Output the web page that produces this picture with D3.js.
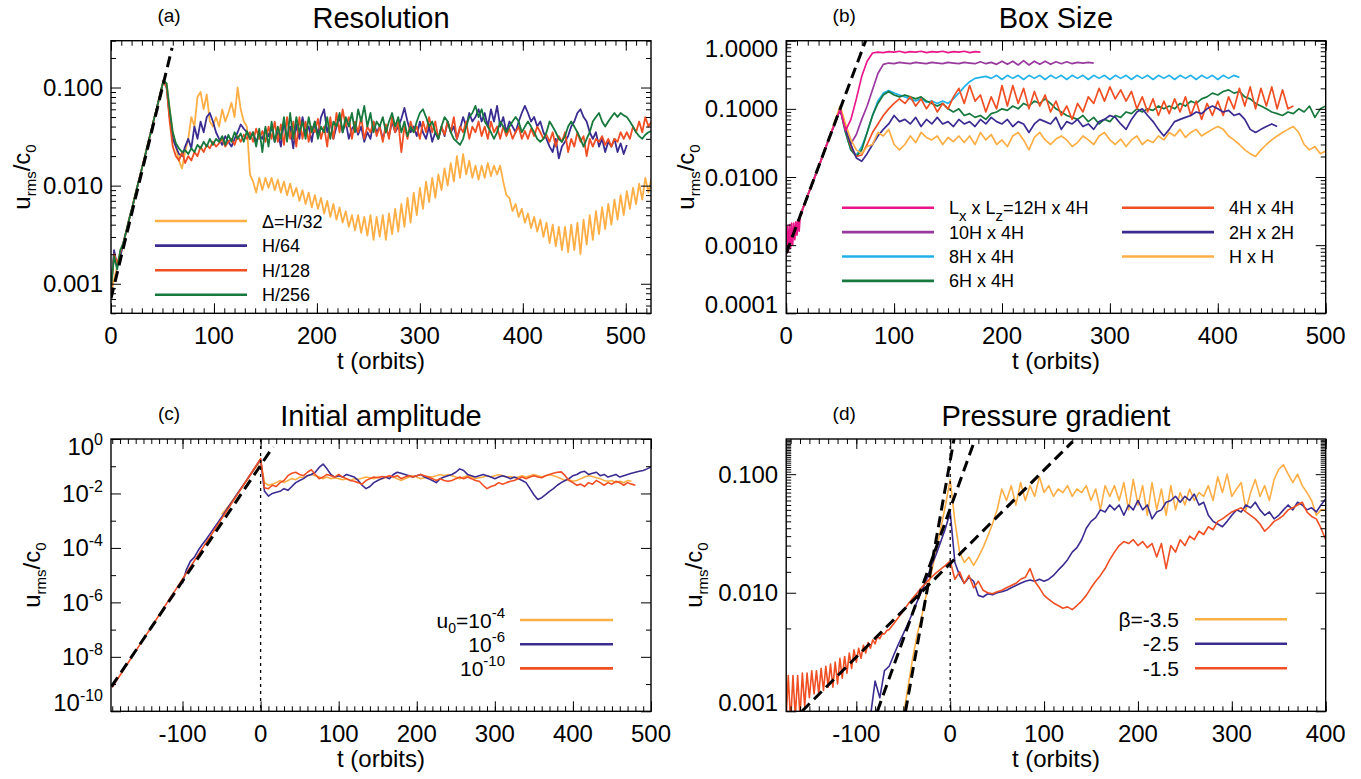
<!DOCTYPE html>
<html><head><meta charset="utf-8">
<script src="https://cdn.jsdelivr.net/npm/d3@7"></script>
<style>
body{margin:0;background:#fff;}
svg{display:block;}
text{font-family:"Liberation Sans",Arial,Helvetica,sans-serif;fill:#000;white-space:pre;}
</style>
</head><body>
<script>
// ================= DATA =================
// Panel (a) Resolution: sampled every 3 orbits from t=0
const aT0 = 0, aStep = 3;
const aH32 = [
0.0008,0.0011,0.0015,0.0019,0.0026,0.0035,0.0047,0.0062,0.0084,0.0112,
0.015,0.02,0.027,0.036,0.049,0.065,0.088,0.118,0.11,0.06,
0.035,0.025,0.018,0.015,0.022,0.03,0.05,0.04,0.08,0.09,
0.06,0.085,0.045,0.04,0.05,0.04,0.06,0.045,0.055,0.07,
0.05,0.1,0.06,0.045,0.04,0.013,0.011,0.0085,0.012,0.009,
0.012,0.0095,0.012,0.009,0.0115,0.0085,0.011,0.008,0.0105,0.0078,
0.0095,0.007,0.009,0.0065,0.0085,0.006,0.008,0.0058,0.0075,0.0052,
0.007,0.0048,0.0065,0.0045,0.006,0.0042,0.0055,0.0038,0.005,0.0035,
0.005,0.0033,0.0048,0.0031,0.005,0.0028,0.0048,0.003,0.005,0.0028,
0.0052,0.0032,0.0058,0.0034,0.0065,0.0038,0.0075,0.0042,0.0085,0.005,
0.0095,0.0058,0.011,0.0068,0.012,0.0075,0.013,0.009,0.015,0.01,
0.017,0.011,0.02,0.012,0.021,0.013,0.018,0.012,0.016,0.0115,
0.016,0.012,0.017,0.0125,0.016,0.013,0.016,0.011,0.008,0.0075,
0.0055,0.0065,0.0048,0.0058,0.0042,0.0052,0.0037,0.0048,0.0034,0.0045,
0.003,0.0042,0.0026,0.004,0.0024,0.0038,0.0022,0.0038,0.0021,0.004,
0.0022,0.0042,0.002,0.0045,0.0025,0.005,0.0028,0.0055,0.0032,0.006,
0.0036,0.0065,0.004,0.0072,0.0045,0.008,0.005,0.0088,0.0058,0.0095,
0.0065,0.0105,0.0072,0.012,0.0085,0.012];
const aH64 = [
0.0009,0.0022,0.0015,0.0019,0.0026,0.0035,0.0047,0.0062,0.0084,0.0112,
0.015,0.02,0.027,0.036,0.049,0.065,0.088,0.118,0.1,0.05,
0.03,0.025,0.021,0.02,0.025,0.03,0.024,0.04,0.03,0.045,
0.035,0.05,0.055,0.045,0.035,0.03,0.026,0.032,0.028,0.025,
0.03,0.035,0.042,0.038,0.035,0.03,0.035,0.028,0.033,0.03,
0.038,0.032,0.04,0.028,0.035,0.025,0.045,0.03,0.04,0.024,
0.042,0.03,0.05,0.035,0.04,0.028,0.045,0.033,0.05,0.06,
0.035,0.045,0.03,0.04,0.05,0.035,0.045,0.03,0.038,0.042,
0.033,0.04,0.028,0.035,0.03,0.045,0.035,0.04,0.03,0.038,
0.032,0.045,0.035,0.04,0.048,0.062,0.045,0.035,0.04,0.032,
0.045,0.035,0.03,0.04,0.028,0.035,0.03,0.04,0.032,0.045,
0.035,0.04,0.03,0.038,0.05,0.04,0.055,0.045,0.05,0.06,
0.045,0.055,0.04,0.06,0.045,0.065,0.04,0.05,0.035,0.045,
0.04,0.035,0.045,0.055,0.065,0.055,0.045,0.05,0.04,0.045,
0.035,0.03,0.025,0.022,0.03,0.019,0.025,0.028,0.032,0.04,
0.045,0.055,0.06,0.05,0.045,0.035,0.03,0.035,0.025,0.03,
0.022,0.028,0.025,0.03,0.022,0.027,0.021,0.026];
const aH128 = [
0.0008,0.002,0.0016,0.0021,0.0026,0.0035,0.0047,0.0062,0.0084,0.0112,
0.015,0.02,0.027,0.036,0.049,0.065,0.088,0.118,0.1,0.045,
0.025,0.02,0.018,0.022,0.017,0.02,0.018,0.022,0.02,0.025,
0.022,0.026,0.024,0.028,0.025,0.027,0.03,0.025,0.028,0.03,
0.026,0.032,0.028,0.033,0.03,0.035,0.028,0.038,0.03,0.036,
0.028,0.04,0.03,0.045,0.028,0.042,0.026,0.05,0.03,0.045,
0.025,0.05,0.03,0.045,0.028,0.04,0.035,0.048,0.03,0.04,
0.025,0.05,0.03,0.055,0.035,0.06,0.04,0.05,0.03,0.045,
0.035,0.05,0.03,0.04,0.035,0.045,0.032,0.04,0.028,0.042,
0.03,0.05,0.035,0.045,0.022,0.04,0.03,0.045,0.035,0.04,
0.03,0.045,0.035,0.05,0.035,0.045,0.03,0.04,0.033,0.045,
0.035,0.05,0.03,0.04,0.035,0.045,0.03,0.04,0.035,0.045,
0.032,0.04,0.03,0.045,0.035,0.04,0.03,0.04,0.032,0.038,
0.03,0.035,0.04,0.03,0.036,0.03,0.038,0.032,0.04,0.035,
0.03,0.033,0.028,0.035,0.025,0.032,0.028,0.035,0.022,0.03,
0.025,0.035,0.028,0.032,0.02,0.03,0.025,0.03,0.028,0.032,
0.026,0.03,0.025,0.03,0.028,0.035,0.03,0.035,0.03,0.04,
0.035,0.045,0.035,0.05,0.04,0.045];
const aH256 = [
0.0009,0.0019,0.0014,0.0022,0.0026,0.0035,0.0047,0.0062,0.0084,0.0112,
0.015,0.02,0.027,0.036,0.049,0.065,0.088,0.118,0.11,0.06,
0.035,0.027,0.024,0.022,0.023,0.021,0.024,0.022,0.026,0.024,
0.028,0.025,0.03,0.026,0.03,0.028,0.032,0.026,0.033,0.028,
0.035,0.03,0.034,0.028,0.036,0.03,0.035,0.025,0.038,0.022,
0.04,0.025,0.045,0.028,0.04,0.03,0.05,0.028,0.055,0.03,
0.05,0.035,0.045,0.03,0.05,0.035,0.045,0.03,0.04,0.035,
0.05,0.03,0.045,0.04,0.055,0.035,0.05,0.04,0.055,0.035,
0.06,0.045,0.065,0.04,0.055,0.035,0.045,0.04,0.05,0.035,
0.045,0.055,0.04,0.05,0.035,0.045,0.032,0.04,0.035,0.045,
0.055,0.06,0.05,0.04,0.045,0.035,0.03,0.04,0.05,0.045,
0.035,0.03,0.028,0.026,0.03,0.04,0.05,0.055,0.065,0.05,
0.06,0.045,0.04,0.035,0.03,0.035,0.045,0.04,0.035,0.04,
0.045,0.05,0.045,0.035,0.04,0.045,0.04,0.035,0.03,0.028,
0.03,0.035,0.045,0.04,0.035,0.03,0.028,0.032,0.04,0.045,
0.04,0.035,0.03,0.025,0.03,0.035,0.045,0.05,0.055,0.045,
0.04,0.045,0.05,0.055,0.05,0.055,0.052,0.05,0.045,0.04,
0.035,0.032,0.03,0.033,0.035,0.036];
const aDash = [[0,0.00071],[59.3,0.253]];
const aLegend = ["\u0394=H/32","H/64","H/128","H/256"];
const aXTicks = [0,100,200,300,400,500];
const aYTicks = [0.001,0.01,0.1];
const aYLabels = ["0.001","0.010","0.100"];

// Panel (b) Box size: sampled every 5 orbits from t=0
const bT0 = 0, bStep = 5;
// early noisy start of the 12H x 4H run, every orbit from t=0
const bPinkEarlyT0 = 0, bPinkEarlyStep = 1;
const bPinkEarly = [0.0007,0.0019,0.0008,0.002,0.0009,0.0021,0.001,0.0021,0.0012,0.0022,0.0014,0.0023,0.0016,0.0027,0.0028,0.0033];
const bPink = [
0.0033,0.0054,0.0087,0.014,0.023,0.038,0.061,
0.1,0.048,0.07,0.14,0.3,0.5,0.66,0.68,0.67,0.69,
0.68,0.7,0.67,0.69,0.68,0.7,0.67,0.69,0.68,0.7,
0.67,0.69,0.68,0.7,0.67,0.69,0.68];
const bPinkT0 = 15;
const bPurple = [
0.0008,0.0012,0.002,0.0033,0.0054,0.0087,0.014,0.023,0.038,0.061,
0.1,0.05,0.031,0.042,0.07,0.11,0.19,0.33,0.45,0.47,
0.46,0.48,0.47,0.46,0.48,0.47,0.46,0.48,0.47,0.46,
0.48,0.47,0.46,0.48,0.47,0.46,0.49,0.46,0.48,0.45,
0.5,0.45,0.5,0.44,0.51,0.44,0.5,0.45,0.5,0.45,
0.49,0.46,0.49,0.46,0.48,0.47,0.48,0.47];
const bSky = [
0.0008,0.0012,0.002,0.0033,0.0054,0.0087,0.014,0.023,0.038,0.061,
0.1,0.045,0.025,0.021,0.028,0.045,0.08,0.13,0.17,0.185,
0.17,0.16,0.15,0.14,0.13,0.14,0.125,0.13,0.12,0.13,
0.12,0.14,0.17,0.21,0.25,0.28,0.29,0.3,0.28,0.31,
0.27,0.31,0.28,0.31,0.27,0.31,0.28,0.31,0.27,0.31,
0.28,0.31,0.27,0.31,0.28,0.31,0.27,0.31,0.28,0.31,
0.27,0.31,0.28,0.31,0.27,0.31,0.28,0.31,0.27,0.31,
0.28,0.31,0.27,0.31,0.28,0.31,0.27,0.31,0.28,0.31,
0.27,0.31,0.28,0.31,0.29];
const bGreen = [
0.0008,0.0012,0.002,0.0033,0.0054,0.0087,0.014,0.023,0.038,0.061,
0.1,0.045,0.025,0.02,0.025,0.045,0.08,0.12,0.16,0.18,
0.16,0.15,0.16,0.15,0.14,0.15,0.13,0.12,0.11,0.12,
0.1,0.09,0.1,0.08,0.085,0.075,0.08,0.07,0.085,0.09,
0.1,0.095,0.11,0.1,0.12,0.11,0.13,0.12,0.14,0.12,
0.1,0.09,0.08,0.075,0.07,0.08,0.065,0.075,0.06,0.07,
0.065,0.08,0.075,0.09,0.085,0.1,0.09,0.1,0.095,0.11,
0.1,0.11,0.1,0.12,0.11,0.13,0.12,0.14,0.15,0.17,
0.16,0.18,0.19,0.17,0.18,0.15,0.14,0.12,0.11,0.1,
0.09,0.085,0.08,0.09,0.085,0.1,0.09,0.11,0.075,0.1,
0.11];
const bRed = [
0.0008,0.0012,0.002,0.0033,0.0054,0.0087,0.014,0.023,0.038,0.061,
0.1,0.05,0.028,0.02,0.021,0.03,0.045,0.06,0.08,0.1,
0.12,0.14,0.12,0.15,0.11,0.14,0.1,0.13,0.09,0.12,
0.1,0.15,0.2,0.12,0.22,0.13,0.16,0.09,0.15,0.1,
0.22,0.11,0.22,0.12,0.2,0.1,0.18,0.11,0.16,0.09,
0.13,0.08,0.11,0.07,0.12,0.09,0.15,0.12,0.2,0.13,
0.21,0.14,0.19,0.13,0.18,0.1,0.15,0.09,0.14,0.08,
0.13,0.085,0.14,0.09,0.15,0.08,0.13,0.07,0.12,0.08,
0.13,0.08,0.15,0.1,0.2,0.11,0.21,0.1,0.2,0.11,
0.21,0.1,0.19,0.1,0.11];
const bIndigo = [
0.0008,0.0012,0.002,0.0033,0.0054,0.0087,0.014,0.023,0.038,0.061,
0.1,0.05,0.03,0.019,0.017,0.022,0.03,0.04,0.05,0.06,
0.08,0.065,0.07,0.06,0.075,0.055,0.07,0.06,0.075,0.06,
0.065,0.055,0.07,0.06,0.065,0.055,0.07,0.06,0.075,0.065,
0.06,0.07,0.055,0.065,0.06,0.045,0.06,0.07,0.065,0.06,
0.075,0.05,0.065,0.06,0.07,0.055,0.06,0.05,0.065,0.07,
0.08,0.075,0.06,0.05,0.07,0.09,0.1,0.08,0.065,0.05,
0.04,0.05,0.065,0.07,0.075,0.08,0.09,0.085,0.1,0.11,
0.1,0.09,0.095,0.08,0.085,0.07,0.05,0.045,0.05,0.055,
0.06,0.055];
const bOrange = [
0.0008,0.0012,0.002,0.0033,0.0054,0.0087,0.014,0.023,0.038,0.065,
0.11,0.06,0.035,0.025,0.022,0.028,0.03,0.045,0.04,0.05,
0.03,0.025,0.03,0.04,0.032,0.045,0.038,0.035,0.04,0.03,
0.038,0.033,0.04,0.032,0.04,0.03,0.045,0.035,0.042,0.03,
0.035,0.028,0.04,0.045,0.035,0.025,0.038,0.045,0.035,0.03,
0.036,0.04,0.035,0.028,0.032,0.04,0.035,0.03,0.04,0.045,
0.035,0.03,0.036,0.028,0.035,0.04,0.03,0.035,0.032,0.04,
0.035,0.045,0.04,0.05,0.038,0.045,0.05,0.04,0.045,0.05,
0.055,0.05,0.04,0.035,0.03,0.025,0.022,0.02,0.025,0.03,
0.035,0.04,0.045,0.05,0.055,0.045,0.03,0.025,0.028,0.022,
0.024];
const bDash = [[0,0.00076],[73.6,1.0]];
const bLegendLeft = ["Lx x Lz=12H x 4H","10H x 4H","8H x 4H","6H x 4H"];
const bLegendRight = ["4H x 4H","2H x 2H","H x H"];
const bXTicks = [0,100,200,300,400,500];
const bYTicks = [1e-4,1e-3,1e-2,1e-1,1];
const bYLabels = ["0.0001","0.0010","0.0100","0.1000","1.0000"];

// Panel (c) Initial amplitude: sampled every 5 orbits
const cStep = 5;
const cRedT0 = -190;
const cRed = [
7.6e-10,1.3e-9,2.1e-9,3.5e-9,5.8e-9,9.7e-9,1.6e-8,2.7e-8,4.5e-8,7.4e-8,
1.2e-7,2.05e-7,3.4e-7,5.7e-7,9.4e-7,1.57e-6,2.6e-6,4.3e-6,7.2e-6,1.2e-5,
2e-5,3.3e-5,5.5e-5,9.2e-5,1.53e-4,2.5e-4,4.2e-4,7e-4,1.17e-3,1.95e-3,
3.2e-3,5.4e-3,8.9e-3,0.0149,0.0248,0.041,0.069,0.114,0.19,0.016,
0.015,0.02,0.018,0.025,0.03,0.045,0.055,0.06,0.05,0.045,
0.06,0.075,0.05,0.035,0.04,0.05,0.045,0.04,0.05,0.04,
0.035,0.03,0.028,0.025,0.022,0.03,0.035,0.04,0.038,0.042,
0.04,0.045,0.04,0.045,0.035,0.04,0.045,0.04,0.045,0.05,
0.045,0.04,0.035,0.03,0.035,0.03,0.028,0.03,0.035,0.04,
0.035,0.04,0.035,0.03,0.028,0.02,0.015,0.018,0.02,0.025,
0.022,0.025,0.028,0.03,0.035,0.04,0.035,0.04,0.045,0.04,
0.038,0.045,0.05,0.055,0.06,0.062,0.045,0.03,0.025,0.02,
0.022,0.018,0.025,0.022,0.03,0.025,0.02,0.025,0.022,0.028,
0.025,0.02,0.025,0.022,0.02];
const cBlueT0 = -100;
const cBlue = [
5e-6,1.6e-5,3.2e-5,4.5e-5,8e-5,1.3e-4,2e-4,3.2e-4,5.2e-4,8.3e-4,
1.35e-3,2.2e-3,3.6e-3,5.8e-3,9.5e-3,0.0155,0.025,0.041,0.067,0.11,
0.18,0.012,0.008,0.01,0.011,0.012,0.015,0.013,0.018,0.025,
0.03,0.035,0.045,0.05,0.06,0.09,0.12,0.08,0.05,0.04,
0.045,0.04,0.05,0.045,0.04,0.03,0.02,0.015,0.018,0.025,
0.03,0.035,0.04,0.035,0.05,0.06,0.055,0.05,0.045,0.04,
0.045,0.05,0.04,0.035,0.03,0.025,0.035,0.04,0.045,0.05,
0.06,0.08,0.07,0.05,0.045,0.04,0.045,0.05,0.045,0.04,
0.035,0.04,0.045,0.04,0.035,0.04,0.035,0.03,0.025,0.015,
0.009,0.006,0.007,0.009,0.012,0.015,0.02,0.025,0.03,0.035,
0.045,0.05,0.06,0.065,0.05,0.055,0.06,0.045,0.05,0.04,
0.045,0.05,0.04,0.045,0.05,0.055,0.06,0.065,0.07,0.08,
0.095];
const cOrangeT0 = -50;
const cOrange = [
0.0017,0.0025,0.0038,0.006,0.0095,0.015,0.024,0.039,0.062,0.1,
0.16,0.025,0.02,0.022,0.025,0.03,0.025,0.03,0.035,0.032,
0.04,0.038,0.045,0.05,0.045,0.04,0.035,0.04,0.035,0.038,
0.035,0.032,0.035,0.03,0.035,0.033,0.036,0.04,0.038,0.035,
0.04,0.035,0.038,0.042,0.04,0.035,0.03,0.035,0.04,0.045,
0.04,0.035,0.038,0.042,0.04,0.045,0.05,0.045,0.05,0.045,
0.04,0.035,0.04,0.045,0.04,0.035,0.038,0.04,0.045,0.04,
0.045,0.05,0.045,0.04,0.042,0.038,0.04,0.045,0.04,0.045,
0.05,0.045,0.04,0.045,0.05,0.045,0.04,0.035,0.03,0.032,
0.028,0.03,0.035,0.04,0.045,0.042,0.038,0.035,0.03,0.028,
0.03,0.025,0.028,0.025,0.03,0.028];
const cDash = [[-191,8.1e-10],[16,0.52]];
const cXTicks = [-100,0,100,200,300,400,500];
const cYTicks = [1e-10,1e-8,1e-6,1e-4,1e-2,1];
const cYExp = ["-10","-8","-6","-4","-2","0"];
const cLegendExp = ["-4","-6","-10"];

// Panel (d) Pressure gradient
const dRedEarlyT0 = -175, dRedEarlyStep = 2.5;
const dRedEarly = [
0.0008,0.002,0.0008,0.002,0.0009,0.002,0.0009,0.0021,0.0011,0.0021,
0.0013,0.0022,0.0014,0.0022,0.0014,0.0023,0.0015,0.0024,0.0016,0.0025,
0.0016,0.0026,0.0017,0.0028,0.0019,0.0029,0.0021,0.0031,0.0023,0.0033,
0.0026,0.0034,0.0028,0.0036,0.0031,0.0038,0.0034,0.004,0.0037,0.0043,
0.0041,0.0045,0.0045,0.0048,0.0049,0.0052];
const dRedT0 = -60, dStep = 5;
const dRed = [
0.0055,0.0062,0.007,0.008,0.009,0.01,0.0112,0.0123,0.0135,0.0147,
0.0158,0.017,0.0185,0.013,0.015,0.012,0.014,0.011,0.0125,0.0105,
0.01,0.0098,0.0102,0.0105,0.011,0.0115,0.012,0.013,0.0135,0.016,
0.0125,0.011,0.0095,0.0088,0.0082,0.0078,0.0074,0.0076,0.0072,0.0078,
0.0085,0.0095,0.011,0.0125,0.014,0.016,0.019,0.022,0.025,0.027,
0.026,0.028,0.025,0.027,0.024,0.026,0.02,0.026,0.016,0.025,
0.022,0.028,0.025,0.03,0.028,0.033,0.031,0.036,0.034,0.04,
0.042,0.045,0.048,0.05,0.052,0.048,0.045,0.042,0.038,0.033,
0.036,0.04,0.042,0.045,0.05,0.052,0.055,0.058,0.048,0.044,
0.042,0.035,0.028];
const dBlueT0 = -85;
const dBlue = [
0.0009,0.0018,0.0013,0.0022,0.0024,0.003,0.0037,0.0045,0.0055,0.0068,
0.0085,0.0105,0.013,0.017,0.021,0.027,0.035,0.048,0.018,0.014,
0.012,0.0135,0.0125,0.0095,0.0092,0.0098,0.0096,0.01,0.0102,0.0105,
0.011,0.0115,0.012,0.0125,0.0128,0.0125,0.013,0.0125,0.013,0.014,
0.0155,0.017,0.019,0.022,0.024,0.028,0.035,0.04,0.043,0.05,
0.048,0.055,0.05,0.055,0.045,0.055,0.05,0.06,0.05,0.055,
0.042,0.048,0.05,0.058,0.06,0.065,0.058,0.065,0.06,0.068,
0.055,0.058,0.045,0.04,0.038,0.036,0.04,0.045,0.05,0.048,
0.055,0.052,0.058,0.05,0.045,0.048,0.042,0.045,0.05,0.055,
0.05,0.058,0.055,0.05,0.052,0.048,0.055,0.062];
const dOrangeT0 = -50;
const dOrange = [
0.0009,0.0016,0.0028,0.0045,0.0065,0.01,0.015,0.022,0.035,0.055,
0.09,0.04,0.022,0.018,0.02,0.017,0.02,0.024,0.03,0.038,
0.05,0.075,0.06,0.08,0.055,0.085,0.06,0.08,0.065,0.095,
0.07,0.08,0.065,0.075,0.07,0.08,0.065,0.075,0.07,0.08,
0.06,0.075,0.05,0.08,0.065,0.08,0.06,0.085,0.05,0.09,
0.055,0.08,0.045,0.085,0.05,0.075,0.045,0.08,0.05,0.07,
0.055,0.075,0.06,0.07,0.065,0.08,0.06,0.095,0.07,0.1,
0.065,0.075,0.085,0.05,0.07,0.09,0.065,0.08,0.06,0.09,
0.11,0.12,0.1,0.085,0.1,0.08,0.07,0.06,0.045,0.05,
0.05];
const dDashShallow = [[-158,0.001],[130.3,0.188]];
const dDashMid = [[-77.6,0.001],[26.3,0.195]];
const dDashSteep = [[-47.6,0.001],[4.2,0.2]];
const dLegend = ["\u03b2=-3.5","-2.5","-1.5"];
const dXTicks = [-100,0,100,200,300,400];
const dYTicks = [0.001,0.01,0.1];
const dYLabels = ["0.001","0.010","0.100"];

// ================= STYLE / LAYOUT =================
const COL = {orange:"#FDAE45", indigo:"#3A2C91", red:"#F04E23", green:"#17793D",
             pink:"#EA1588", purple:"#98399D", sky:"#22B2EA"};
const LAY = {
  a:{x0:111,x1:651,y0:40.7,y1:313.3,xd:[0,524.5],yd:[0.0005,0.3]},
  b:{x0:786.2,x1:1325.7,y0:40.7,y1:313.3,xd:[0,500],yd:[1e-4,1]},
  c:{x0:111,x1:651,y0:439,y1:711.3,xd:[-191.6,500],yd:[1e-10,1]},
  d:{x0:786.2,x1:1325.7,y0:439,y1:711.3,xd:[-174.7,400],yd:[0.001,0.198]}
};

const svg = d3.select("body").append("svg").attr("width",1361).attr("height",779);
const series = (t0,dt,vals)=>vals.map((v,i)=>({t:t0+i*dt,v}));
const pairs = arr=>arr.map(p=>({t:p[0],v:p[1]}));

function rich(g,x,y,parts,size,anchor){
  const t=g.append("text").attr("x",x).attr("y",y).attr("font-size",size).attr("text-anchor",anchor||"start");
  let cur=0;
  parts.forEach(p=>{const off=p.off||0;
    t.append("tspan").attr("dy",off-cur).attr("font-size",p.size||size).text(p.s);cur=off;});
  return t;
}

function panel(key,id){
  const c=LAY[key];
  const x=d3.scaleLinear().domain(c.xd).range([c.x0,c.x1]);
  const y=d3.scaleLog().domain(c.yd).range([c.y1,c.y0]);
  const g=svg.append("g");
  svg.append("clipPath").attr("id","clip"+id).append("rect")
    .attr("x",c.x0).attr("y",c.y0).attr("width",c.x1-c.x0).attr("height",c.y1-c.y0);
  const pg=g.append("g").attr("clip-path",`url(#clip${id})`);
  return {c,x,y,g,pg};
}

function axes(p,xMaj,xMin,yMaj,yMin){
  const {c,x,y,g}=p;
  const mk=(axis,vals,size,tr)=>{
    const a=g.append("g").attr("transform",tr).call(axis.tickValues(vals).tickSize(size).tickFormat(""));
    a.select(".domain").remove();
    a.selectAll("line").attr("stroke","#000").attr("stroke-width",1);
  };
  mk(d3.axisBottom(x),xMaj,-10,`translate(0,${c.y1})`);
  mk(d3.axisBottom(x),xMin,-5,`translate(0,${c.y1})`);
  mk(d3.axisTop(x),xMaj,-10,`translate(0,${c.y0})`);
  mk(d3.axisTop(x),xMin,-5,`translate(0,${c.y0})`);
  mk(d3.axisLeft(y),yMaj,-10,`translate(${c.x0},0)`);
  mk(d3.axisLeft(y),yMin,-5,`translate(${c.x0},0)`);
  mk(d3.axisRight(y),yMaj,-10,`translate(${c.x1},0)`);
  mk(d3.axisRight(y),yMin,-5,`translate(${c.x1},0)`);
  g.append("rect").attr("x",c.x0).attr("y",c.y0).attr("width",c.x1-c.x0).attr("height",c.y1-c.y0)
    .attr("fill","none").attr("stroke","#000").attr("stroke-width",1.4);
}

function logMinors(y){ return y.ticks(50).filter(v=>{const l=Math.log10(v);return Math.abs(l-Math.round(l))>1e-6;}); }

function drawLine(p,data,color,w,dash){
  const line=d3.line().x(d=>p.x(d.t)).y(d=>p.y(d.v));
  const path=p.pg.append("path").datum(data).attr("d",line).attr("fill","none")
    .attr("stroke",color).attr("stroke-width",w).attr("stroke-linejoin","round");
  if(dash) path.attr("stroke-dasharray",dash);
}

function xLabels(p,ticks){
  ticks.forEach(t=>p.g.append("text").attr("x",p.x(t)).attr("y",p.c.y1+31)
    .attr("text-anchor","middle").attr("font-size",24).text(String(t)));
  p.g.append("text").attr("x",(p.c.x0+p.c.x1)/2).attr("y",p.c.y1+56)
    .attr("text-anchor","middle").attr("font-size",24).text("t (orbits)");
}
function yLabelText(p,x){
  const t=p.g.append("text").attr("transform",`translate(${x},${(p.c.y0+p.c.y1)/2}) rotate(-90)`)
    .attr("text-anchor","middle").attr("font-size",24);
  [["u",0,24],["rms",6,15],["/c",0,24],["0",6,15]].reduce((cur,d)=>{
    t.append("tspan").attr("dy",d[1]-cur).attr("font-size",d[2]).text(d[0]);return d[1];},0);
}
function yPos(p,v){
  const yy=p.y(v);
  if(Math.abs(yy-p.c.y0)<1) return p.c.y0+16;
  if(Math.abs(yy-p.c.y1)<1) return p.c.y1;
  return yy+8.5;
}
function titles(p,letter,title){
  const cx=(p.c.x0+p.c.x1)/2;
  p.g.append("text").attr("x",p.c.x0+58).attr("y",p.c.y0-19).attr("text-anchor","middle")
    .attr("font-size",19).text(letter);
  p.g.append("text").attr("x",cx).attr("y",p.c.y0-13).attr("text-anchor","middle")
    .attr("font-size",29).text(title);
}
function legLine(g,x0,x1,y,color){
  g.append("line").attr("x1",x0).attr("x2",x1).attr("y1",y).attr("y2",y)
    .attr("stroke",color).attr("stroke-width",2.6);
}

// ================= PANEL A =================
{
  const p=panel("a","A");
  axes(p,aXTicks,d3.range(0,525,10),aYTicks,logMinors(p.y));
  drawLine(p,series(aT0,aStep,aH32),COL.orange,1.8);
  drawLine(p,series(aT0,aStep,aH64),COL.indigo,1.8);
  drawLine(p,series(aT0,aStep,aH128),COL.red,1.8);
  drawLine(p,series(aT0,aStep,aH256),COL.green,1.8);
  drawLine(p,pairs(aDash),"#000",3,"11,6");
  xLabels(p,aXTicks);
  aYTicks.forEach((v,i)=>p.g.append("text").attr("x",p.c.x0-8).attr("y",yPos(p,v))
    .attr("text-anchor","end").attr("font-size",24).text(aYLabels[i]));
  yLabelText(p,30);
  titles(p,"(a)","Resolution");
  const cols=[COL.orange,COL.indigo,COL.red,COL.green];
  aLegend.forEach((s,i)=>{const yy=221+i*24.6;
    legLine(p.g,155,247,yy,cols[i]);
    p.g.append("text").attr("x",262).attr("y",yy+6.5).attr("font-size",18).text(s);});
}

// ================= PANEL B =================
{
  const p=panel("b","B");
  axes(p,bXTicks,d3.range(0,501,10),bYTicks,logMinors(p.y));
  drawLine(p,series(bT0,bStep,bPurple),COL.purple,1.7);
  drawLine(p,series(bT0,bStep,bSky),COL.sky,1.7);
  drawLine(p,series(bT0,bStep,bGreen),COL.green,1.7);
  drawLine(p,series(bT0,bStep,bRed),COL.red,1.7);
  drawLine(p,series(bT0,bStep,bIndigo),COL.indigo,1.7);
  drawLine(p,series(bT0,bStep,bOrange),COL.orange,1.7);
  drawLine(p,series(bPinkEarlyT0,bPinkEarlyStep,bPinkEarly).concat(series(bPinkT0,bStep,bPink)),COL.pink,1.7);
  drawLine(p,pairs(bDash),"#000",3,"11,6");
  xLabels(p,bXTicks);
  bYTicks.forEach((v,i)=>p.g.append("text").attr("x",p.c.x0-8).attr("y",yPos(p,v))
    .attr("text-anchor","end").attr("font-size",24).text(bYLabels[i]));
  yLabelText(p,694);
  titles(p,"(b)","Box Size");
  const lc=[COL.pink,COL.purple,COL.sky,COL.green], rc=[COL.red,COL.indigo,COL.orange];
  bLegendLeft.forEach((s,i)=>{const yy=207.7+i*24.4;
    legLine(p.g,842,934,yy,lc[i]);
    if(i===0){
      const parts=s.split(/(?<=L)(x|z)/);
      rich(p.g,949,yy+6.5,[{s:parts[0]},{s:parts[1],size:15,off:7},{s:parts[2]},{s:parts[3],size:15,off:7},{s:parts[4]}],18);
    } else p.g.append("text").attr("x",949).attr("y",yy+6.5).attr("font-size",18).text(s);});
  bLegendRight.forEach((s,i)=>{const yy=207.7+i*24.4;
    legLine(p.g,1122,1214,yy,rc[i]);
    p.g.append("text").attr("x",1229).attr("y",yy+6.5).attr("font-size",18).text(s);});
}

// ================= PANEL C =================
{
  const p=panel("c","C");
  const yMin=[1e-9,1e-7,1e-5,1e-3,1e-1];
  axes(p,cXTicks,d3.range(-190,501,10),cYTicks,yMin);
  drawLine(p,series(cOrangeT0,cStep,cOrange),COL.orange,1.6);
  drawLine(p,series(cBlueT0,cStep,cBlue),COL.indigo,1.6);
  drawLine(p,series(cRedT0,cStep,cRed),COL.red,1.6);
  drawLine(p,pairs(cDash),"#000",3,"11,6");
  p.g.append("line").attr("x1",p.x(0)).attr("x2",p.x(0)).attr("y1",p.c.y0).attr("y2",p.c.y1)
    .attr("stroke","#000").attr("stroke-width",1.3).attr("stroke-dasharray","3,4");
  xLabels(p,cXTicks);
  cYTicks.forEach((v,i)=>rich(p.g,p.c.x0-8,yPos(p,v),[{s:"10"},{s:cYExp[i],size:16,off:-10}],24,"end"));
  yLabelText(p,40);
  titles(p,"(c)","Initial amplitude");
  const cols=[COL.orange,COL.indigo,COL.red];
  cLegendExp.forEach((e,i)=>{const yy=620+i*24.2;
    legLine(p.g,520,613,yy,cols[i]);
    const parts=i===0?[{s:"u"},{s:"0",size:14,off:5},{s:"=10"},{s:e,size:15,off:-10}]
                     :[{s:"10"},{s:e,size:15,off:-10}];
    rich(p.g,505,yy+7.5,parts,21,"end");});
}

// ================= PANEL D =================
{
  const p=panel("d","D");
  axes(p,dXTicks,d3.range(-170,401,10),dYTicks,logMinors(p.y));
  drawLine(p,series(dOrangeT0,dStep,dOrange),COL.orange,1.6);
  drawLine(p,series(dBlueT0,dStep,dBlue),COL.indigo,1.6);
  drawLine(p,series(dRedEarlyT0,dRedEarlyStep,dRedEarly).concat(series(dRedT0,dStep,dRed)),COL.red,1.6);
  drawLine(p,pairs(dDashShallow),"#000",3,"11,6");
  drawLine(p,pairs(dDashMid),"#000",3,"11,6");
  drawLine(p,pairs(dDashSteep),"#000",3,"11,6");
  p.g.append("line").attr("x1",p.x(0)).attr("x2",p.x(0)).attr("y1",p.c.y0).attr("y2",p.c.y1)
    .attr("stroke","#000").attr("stroke-width",1.3).attr("stroke-dasharray","3,4");
  xLabels(p,dXTicks);
  dYTicks.forEach((v,i)=>p.g.append("text").attr("x",p.c.x0-8).attr("y",yPos(p,v))
    .attr("text-anchor","end").attr("font-size",24).text(dYLabels[i]));
  yLabelText(p,702);
  titles(p,"(d)","Pressure gradient");
  const cols=[COL.orange,COL.indigo,COL.red];
  dLegend.forEach((s,i)=>{const yy=619.3+i*24.5;
    legLine(p.g,1195,1287,yy,cols[i]);
    p.g.append("text").attr("x",1179).attr("y",yy+7.5).attr("text-anchor","end").attr("font-size",21).text(s);});
}
</script>
</body></html>
